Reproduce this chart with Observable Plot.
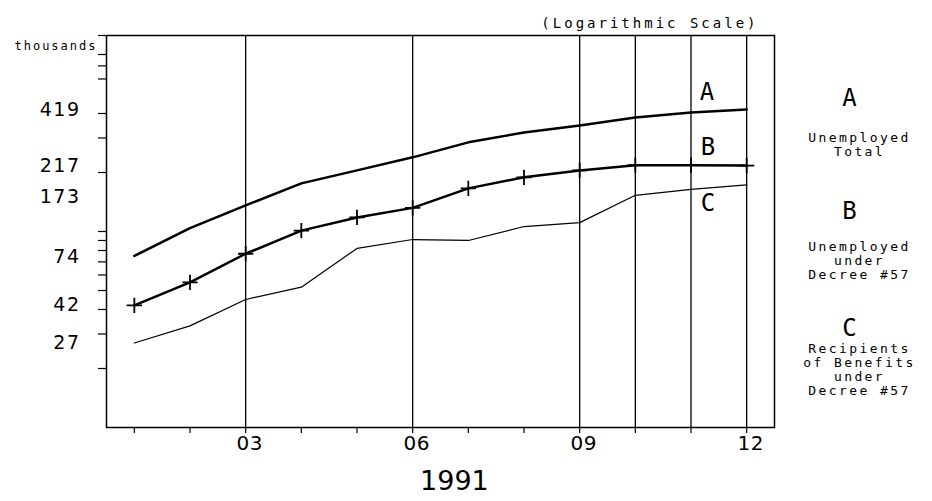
<!DOCTYPE html>
<html>
<head>
<meta charset="utf-8">
<script src="https://cdn.jsdelivr.net/npm/d3@7"></script>
<script src="https://cdn.jsdelivr.net/npm/@observablehq/plot@0.6"></script>
<style>
  html, body { margin: 0; padding: 0; background: #fff; }
  #chart { width: 932px; height: 501px; }
</style>
</head>
<body>
<div id="chart"></div>
<script>
// ---- data (thousands, 1991, months 01..12) ----
const months = [1, 2, 3, 4, 5, 6, 7, 8, 9, 10, 11, 12];
const seriesA = [75, 104, 136, 176, 205, 239, 285, 320, 347, 382, 405, 419]; // Unemployed Total
const seriesB = [42, 55, 77, 101, 118, 132, 166, 189, 205, 218, 218, 217];   // Unemployed under Decree #57
const seriesC = [27, 33, 45, 52, 82, 91, 90, 106, 111, 153, 164, 173];       // Recipients of Benefits under Decree #57
const yLabels = [419, 217, 173, 74, 42, 27];
const yTicks = [1000, 800, 700, 600, 400, 300, 200, 100, 90, 80, 70, 60, 50, 40, 30, 20];
const gridMonths = [3, 6, 9, 10, 11, 12];
const xLabelMonths = [3, 6, 9, 12];
const xLabelText = ["03", "06", "09", "12"];
const seriesNames = ["A", "B", "C"];
const legendLines = [["Unemployed", "Total"], ["Unemployed", "under", "Decree #57"],
                     ["Recipients", "of Benefits", "under", "Decree #57"]];

const rows = (vals) => months.map((m, i) => ({month: m, value: vals[i]}));
const dataA = rows(seriesA), dataB = rows(seriesB), dataC = rows(seriesC);

const mono = "DejaVu Sans Mono, monospace";
const sans = "DejaVu Sans, sans-serif";

// legend layout (offsets from the plot's top-right corner)
const legendNameDy = [53, 166, 283];
const legendTextDy = [97, 206, 308];
const legendLineStep = 14;
const legendMarks = [];
seriesNames.forEach((n, i) => {
  legendMarks.push(Plot.text([n], {frameAnchor: "top-right", dx: 75, dy: legendNameDy[i], textAnchor: "middle",
    text: d => d, fontSize: 24, fontFamily: mono, fill: "#000"}));
  legendLines[i].forEach((line, j) => {
    legendMarks.push(Plot.text([line], {frameAnchor: "top-right", dx: 85, dy: legendTextDy[i] + j * legendLineStep,
      textAnchor: "middle", text: d => d, fontSize: 13, fontFamily: mono, fill: "#000", ariaDescription: "ls-2.4"}));
  });
});

const chart = Plot.plot({
  width: 932,
  height: 501,
  marginLeft: 106,
  marginRight: 158,
  marginTop: 35,
  marginBottom: 74,
  style: {background: "#fff", color: "#000", fontFamily: sans},
  x: {domain: [0.5, 12.5]},
  y: {type: "log", domain: [10, 1000]},
  marks: [
    Plot.ruleX(gridMonths, {stroke: "#000", strokeWidth: 1.3}),
    Plot.frame({stroke: "#000", strokeWidth: 1.5}),
    Plot.axisY({ticks: yTicks, tickSize: 8, tickFormat: () => "", label: null, strokeWidth: 1.2}),
    Plot.axisX({ticks: months, tickSize: 6, tickFormat: () => "", label: null, strokeWidth: 1.2}),
    Plot.text(xLabelMonths, {x: d => d, text: (d, i) => xLabelText[i], frameAnchor: "bottom",
      dx: 4, dy: 22, fontSize: 20, fontFamily: sans, fill: "#000", ariaDescription: "ls-0.5"}),
    // y labels
    Plot.text(yLabels.filter(d => d !== 173), {y: d => d, text: d => String(d), frameAnchor: "left", dx: -26,
      textAnchor: "end", fontSize: 19, fontFamily: sans, fill: "#000", ariaDescription: "ls-1.5"}),
    Plot.text(yLabels.filter(d => d === 173), {y: d => d, text: d => String(d), frameAnchor: "left", dx: -26,
      dy: 12, textAnchor: "end", fontSize: 19, fontFamily: sans, fill: "#000", ariaDescription: "ls-1.5"}),
    Plot.text(["thousands"], {frameAnchor: "top-left", dx: -9, dy: 6, textAnchor: "end",
      fontSize: 12, fontFamily: mono, fill: "#000", ariaDescription: "ls-2"}),
    Plot.text(["(Logarithmic Scale)"], {frameAnchor: "top-right", dx: -16, dy: -17, textAnchor: "end",
      fontSize: 14, fontFamily: mono, fill: "#000", ariaDescription: "ls-3"}),
    Plot.text(["1991"], {x: 6.75, frameAnchor: "bottom", dy: 62, text: d => d, fontSize: 27,
      fontFamily: sans, fill: "#000"}),
    // series
    Plot.line(dataC, {x: "month", y: "value", stroke: "#000", strokeWidth: 1.2}),
    Plot.line(dataA, {x: "month", y: "value", stroke: "#000", strokeWidth: 2.5}),
    Plot.line(dataB, {x: "month", y: "value", stroke: "#000", strokeWidth: 2.5}),
    Plot.dot(dataB, {x: "month", y: "value", symbol: "plus", r: 5, stroke: "#000", strokeWidth: 1.8}),
    // in-plot series labels
    Plot.text([dataA[10]], {x: "month", y: "value", text: () => "A", dx: 16, dy: -20,
      fontSize: 24, fontFamily: mono, fill: "#000"}),
    Plot.text([dataB[10]], {x: "month", y: "value", text: () => "B", dx: 17, dy: -18,
      fontSize: 24, fontFamily: mono, fill: "#000"}),
    Plot.text([dataC[10]], {x: "month", y: "value", text: () => "C", dx: 17, dy: 14,
      fontSize: 24, fontFamily: mono, fill: "#000"}),
    ...legendMarks
  ]
});
d3.select(chart).selectAll("[aria-description^='ls-']").each(function() {
  const v = this.getAttribute("aria-description").slice(3);
  d3.select(this).style("letter-spacing", v + "px");
});
document.getElementById("chart").appendChild(chart);
</script>
</body>
</html>
